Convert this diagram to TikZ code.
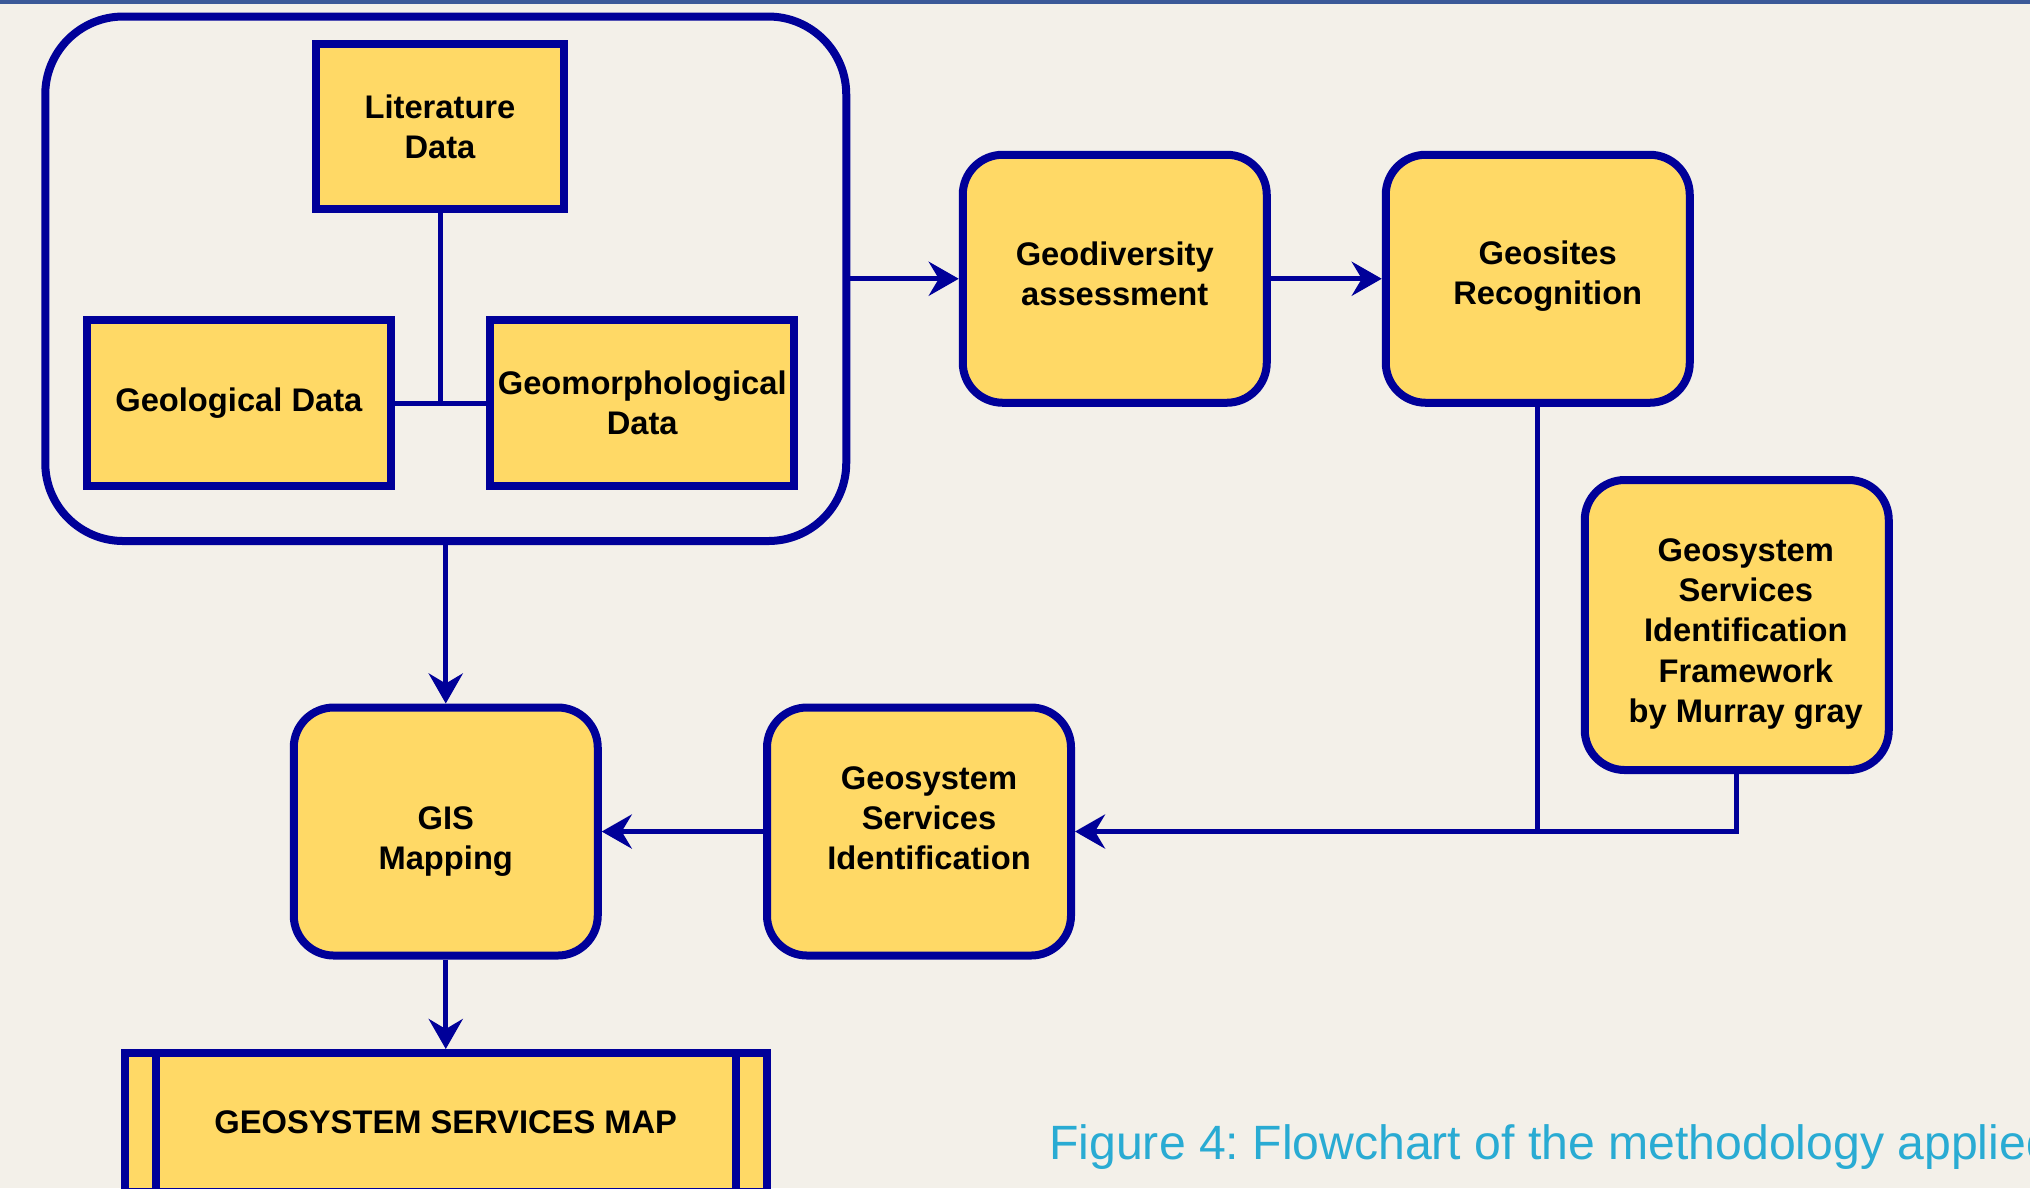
\documentclass[tikz,border=0pt]{standalone}
\usepackage{fontspec}
\setmainfont{Liberation Sans}
\usepackage{tikz}
\usetikzlibrary{arrows.meta}
\usetikzlibrary{calc}
\definecolor{sand}{RGB}{243, 240, 233}
\definecolor{mustard}{RGB}{255, 217, 102}
\definecolor{navy}{RGB}{0, 0, 153}
\definecolor{slate}{RGB}{59, 89, 152}
\definecolor{skyblue}{RGB}{41, 171, 211}

\begin{document}
\begin{tikzpicture}[
        boxtext/.style={align=center, inner sep=0pt, font=\fontsize{9.3}{11.4}\selectfont\bfseries},
        databox/.style={draw=navy, fill=mustard, line width=0.08cm, boxtext},
        stepbox/.style n args={3}{databox, rounded corners=0.4cm, minimum width=3.04cm, minimum height=2.48cm,
                        label={[boxtext, xshift=#1, yshift=#2]center:#3}},
        groupbox/.style={draw=navy, line width=0.08cm, rounded corners=0.78cm},
        link/.style={draw=navy, line width=0.05cm},
        flow/.style={link, -{Stealth[length=0.3cm, width=0.34cm, inset=0.1cm]}},
        caption/.style={text=skyblue, inner sep=0pt, font=\fontsize{13.7}{16.4}\selectfont\frenchspacing}
    ]
            \useasboundingbox                                             (0.00, 0.00) rectangle (20.30,-11.88);
            \clip                                                         (0.00, 0.00) rectangle (20.30,-11.88);
            \fill[sand]                                                   (0.00, 0.00) rectangle (20.30,-11.88);
            \fill[slate]                                                  (0.00, 0.00) rectangle (20.30,-0.035);

            \node[groupbox, minimum width=8.01cm, minimum height=5.245cm] (group)    at ( 4.4575,-2.7875) {};
            \node[databox,  minimum width=2.48cm, minimum height=1.65cm]  (lit)      at ( 4.40,  -1.265)  {Literature\\Data};
            \node[databox,  minimum width=3.04cm, minimum height=1.66cm]  (geol)     at ( 2.3885,-4.03)   {Geological Data};
            \node[databox,  minimum width=3.04cm, minimum height=1.66cm]  (geom)     at ( 6.4225,-4.03)   {Geomorphological\\Data};
            \node[stepbox={0cm}{0.05cm}{Geodiversity\\assessment}]                            (geodiv)  at (11.1475,-2.7875) {};
            \node[stepbox={0.10cm}{0.03cm}{Geosites\\Recognition}]                            (geosite) at (15.3775,-2.7875) {};
            \node[stepbox={0.09cm}{-0.09cm}{Geosystem\\Services\\Identification\\Framework\\by Murray gray},
                  minimum height=2.90cm]                                                      (frame)   at (17.3675,-6.25)   {};
            \node[stepbox={0.10cm}{0.13cm}{Geosystem\\Services\\Identification}]              (gsi)     at ( 9.19,  -8.315)  {};
            \node[stepbox={0cm}{-0.10cm}{GIS\\Mapping}]                                       (gis)     at ( 4.4575,-8.315)  {};
            \node[databox,  minimum width=6.425cm, minimum height=1.39cm] (map)      at ( 4.4575,-11.225) {GEOSYSTEM SERVICES MAP};
            \draw[databox] ([xshift= 0.35cm]map.north west) -- ([xshift= 0.35cm]map.south west);
            \draw[databox] ([xshift=-0.35cm]map.north east) -- ([xshift=-0.35cm]map.south east);

            \coordinate (join) at (geosite.south |- gsi.east);
            \draw[link] (lit.south)     -- (lit.south |- geol.east);
            \draw[link] (geol.east)     -- (geom.west);
            \draw[flow] (group.east)    -- (geodiv.west);
            \draw[flow] (geodiv.east)   -- (geosite.west);
            \draw[flow] (geosite.south) |- (gsi.east);
            \draw[link] (frame.south)   |- (join);
            \draw[flow] (gsi.west)      -- (gis.east);
            \draw[flow] (group.south)   -- (gis.north);
            \draw[flow] (gis.south)     -- (map.north);

            \node[caption, anchor=base west] (cap) at (10.486,-11.59) {Figure 4: Flowchart of the methodology applied};
\end{tikzpicture}
\end{document}
